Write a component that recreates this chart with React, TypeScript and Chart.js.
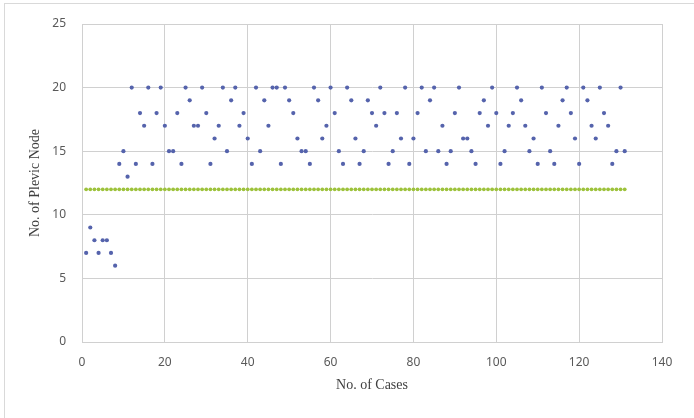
import React, { useEffect, useRef } from "react";
import { Chart, registerables } from "chart.js";

Chart.register(...registerables);

const pelvicNodes: number[] = [
  7, 9, 8, 7, 8, 8, 7, 6, 14, 15, 13, 20, 14, 18, 17, 20, 14, 18, 20, 17,
  15, 15, 18, 14, 20, 19, 17, 17, 20, 18, 14, 16, 17, 20, 15, 19, 20, 17, 18, 16,
  14, 20, 15, 19, 17, 20, 20, 14, 20, 19, 18, 16, 15, 15, 14, 20, 19, 16, 17, 20,
  18, 15, 14, 20, 19, 16, 14, 15, 19, 18, 17, 20, 18, 14, 15, 18, 16, 20, 14, 16,
  18, 20, 15, 19, 20, 15, 17, 14, 15, 18, 20, 16, 16, 15, 14, 18, 19, 17, 20, 18,
  14, 15, 17, 18, 20, 19, 17, 15, 16, 14, 20, 18, 15, 14, 17, 19, 20, 18, 16, 14,
  20, 19, 17, 16, 20, 18, 17, 14, 15, 20, 15,
];
const thresholdNode = 12;
const xTicks = [0, 20, 40, 60, 80, 100, 120, 140];
const yTicks = [0, 5, 10, 15, 20, 25];
const xTitle = "No. of Cases";
const yTitle = "No. of Plevic Node";

export default function App() {
  const ref = useRef<HTMLCanvasElement | null>(null);

  useEffect(() => {
    document.body.style.margin = "0";
    const canvas = ref.current;
    if (!canvas) return;
    const blue = pelvicNodes.map((v, i) => ({ x: i + 1, y: v }));
    const green = pelvicNodes.map((_, i) => ({ x: i + 1, y: thresholdNode }));
    const gridColor = "#d0d0d0";
    const tickFont = { family: "'Noto Sans', sans-serif", size: 12 };
    const titleFont = { family: "'Liberation Serif', serif", size: 14 };
    const chart = new Chart(canvas, {
      type: "scatter",
      data: {
        datasets: [
          {
            label: "Pelvic Node",
            data: blue,
            backgroundColor: "#5563ac",
            borderColor: "#5563ac",
            borderWidth: 0,
            pointRadius: 2.1,
            pointStyle: "circle",
          },
          {
            label: "Threshold",
            data: green,
            backgroundColor: "#9dc23b",
            borderColor: "#9dc23b",
            borderWidth: 0,
            pointRadius: 1.9,
            pointStyle: "circle",
          },
        ],
      },
      options: {
        animation: false,
        responsive: false,
        maintainAspectRatio: false,
        layout: { padding: { left: 0, top: 24, right: 32, bottom: 0 } },
        plugins: {
          legend: { display: false },
          tooltip: { enabled: false },
        },
        scales: {
          x: {
            type: "linear",
            min: 0,
            max: 140,
            afterBuildTicks: (scale: any) => {
              scale.ticks = xTicks.map((v) => ({ value: v }));
            },
            afterFit: (scale: any) => {
              scale.height = 76;
            },
            grid: {
              color: gridColor,
              drawTicks: false,
            },
            border: { color: gridColor },
            ticks: {
              color: "#595959",
              font: tickFont,
              padding: 13,
              maxRotation: 0,
            },
            title: {
              display: true,
              text: xTitle,
              color: "#404040",
              font: titleFont,
              padding: { top: 0, bottom: 24 },
            },
          },
          y: {
            type: "linear",
            min: 0,
            max: 25,
            afterBuildTicks: (scale: any) => {
              scale.ticks = yTicks.map((v) => ({ value: v }));
            },
            afterFit: (scale: any) => {
              scale.width = 82;
            },
            grid: {
              color: gridColor,
              drawTicks: false,
            },
            border: { color: gridColor },
            ticks: {
              color: "#595959",
              font: tickFont,
              padding: 16,
            },
            title: {
              display: true,
              text: yTitle,
              color: "#404040",
              font: titleFont,
              padding: { top: 27, bottom: 0 },
            },
          },
        },
      },
      plugins: [
        {
          id: "plotBorder",
          afterDraw(c: any) {
            const { ctx, chartArea } = c;
            ctx.save();
            ctx.strokeStyle = gridColor;
            ctx.lineWidth = 1;
            ctx.strokeRect(
              Math.round(chartArea.left) + 0.5,
              Math.round(chartArea.top) + 0.5,
              Math.round(chartArea.right - chartArea.left),
              Math.round(chartArea.bottom - chartArea.top)
            );
            ctx.restore();
          },
        },
      ],
    } as any);
    return () => chart.destroy();
  }, []);

  return (
    <div style={{ position: "fixed", left: 0, top: 0, width: 694, height: 418, background: "#fff", overflow: "hidden" }}>
      <div
        style={{
          position: "absolute",
          left: 4,
          top: 3,
          width: 720,
          height: 440,
          border: "1px solid #d9d9d9",
          boxSizing: "border-box",
        }}
      />
      <canvas ref={ref} width={694} height={418} style={{ position: "absolute", left: 0, top: 0, width: 694, height: 418 }} />
    </div>
  );
}
